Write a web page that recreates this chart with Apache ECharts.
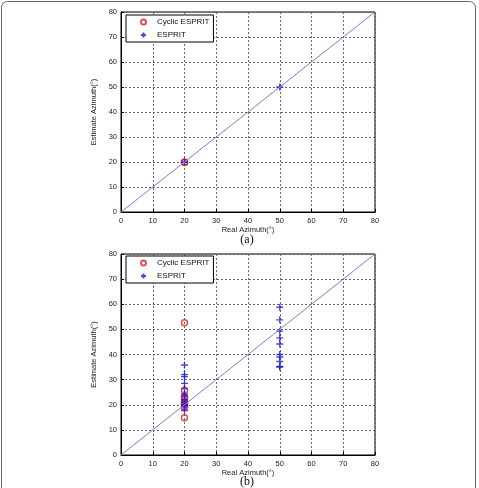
<!DOCTYPE html>
<html>
<head>
<meta charset="utf-8">
<script src="https://cdn.jsdelivr.net/npm/echarts@6/dist/echarts.min.js"></script>
<style>
  html, body { margin: 0; padding: 0; background: #fff; }
  #chart { width: 479px; height: 488px; }
</style>
</head>
<body>
<div id="chart"></div>
<script>
// reference line y = x
var refLine = [[0, 0], [80, 80]]

// (a) estimates
var cyclicA = [[20, 20], [20, 19.8]]
var espritA = [[20, 20], [50, 50]]

// (b) estimates
var cyclicB20 = [52.6, 25.8, 23.0, 22.2, 21.2, 20.5, 19.8, 19.0, 14.8]
var espritB20 = [35.8, 32.0, 31.2, 28.5, 26.4, 24.3, 23.5, 22.0, 21.0, 20.0, 19.5, 17.7]
var espritB50 = [58.8, 53.8, 49.3, 46.6, 44.2, 40.0, 39.0, 37.2, 35.2, 35.0]

var cyclicB = cyclicB20.map(function (v) { return [20, v] })
var espritB = espritB20.map(function (v) { return [20, v] }).concat(espritB50.map(function (v) { return [50, v] }))

var font = 'Liberation Sans, Arial, sans-serif'
var plusPath = 'path://M0,5L10,5M5,0L5,10'

function xAxis(idx) {
  return {
    gridIndex: idx,
    type: 'value',
    min: 0,
    max: 80,
    interval: 10,
    name: 'Real Azimuth(°)',
    nameLocation: 'middle',
    nameGap: 14,
    nameTextStyle: { fontFamily: font, fontSize: 7.5, color: '#222' },
    axisLine: { lineStyle: { color: '#000', width: 1 } },
    axisTick: { inside: true, length: 3, lineStyle: { color: '#000' } },
    axisLabel: { fontFamily: font, fontSize: 7.5, color: '#222', margin: 5 },
    splitLine: { show: true, lineStyle: { color: '#666', type: [2, 2], width: 1 } }
  }
}

function yAxis(idx) {
  return {
    gridIndex: idx,
    type: 'value',
    min: 0,
    max: 80,
    interval: 10,
    name: 'Estimate Azimuth(°)',
    nameLocation: 'middle',
    nameGap: 16,
    nameTextStyle: { fontFamily: font, fontSize: 7.5, color: '#222' },
    axisLine: { lineStyle: { color: '#000', width: 1 } },
    axisTick: { inside: true, length: 3, lineStyle: { color: '#000' } },
    axisLabel: { fontFamily: font, fontSize: 7.5, color: '#222', margin: 4 },
    splitLine: { show: true, lineStyle: { color: '#666', type: [2, 2], width: 1 } }
  }
}

function seriesFor(idx, cyc, esp) {
  return [
    {
      name: 'line',
      type: 'line',
      xAxisIndex: idx,
      yAxisIndex: idx,
      data: refLine,
      symbol: 'none',
      silent: true,
      lineStyle: { color: '#7b7bdc', width: 1 }
    },
    {
      name: 'Cyclic ESPRIT',
      type: 'scatter',
      xAxisIndex: idx,
      yAxisIndex: idx,
      data: cyc,
      symbol: 'circle',
      symbolSize: 6,
      itemStyle: { color: 'transparent', borderColor: '#e0201e', borderWidth: 1.5 }
    },
    {
      name: 'ESPRIT',
      type: 'scatter',
      xAxisIndex: idx,
      yAxisIndex: idx,
      data: esp,
      symbol: plusPath,
      symbolSize: 7,
      itemStyle: { color: 'transparent', borderColor: '#1a1adb', borderWidth: 1.4 }
    }
  ]
}

function legend(top) {
  return {
    data: [
      { name: 'Cyclic ESPRIT', icon: 'circle' },
      { name: 'ESPRIT', icon: plusPath }
    ],
    orient: 'vertical',
    left: 126,
    top: top,
    itemWidth: 5,
    itemHeight: 5,
    itemGap: 5,
    padding: [3, 4, 3, 14],
    backgroundColor: '#fff',
    borderColor: '#000',
    borderWidth: 1,
    borderRadius: 0,
    selectedMode: false,
    textStyle: { fontFamily: font, fontSize: 8, color: '#111', padding: [0, 0, 0, 6] }
  }
}

var chart = echarts.init(document.getElementById('chart'))
chart.setOption({
  animation: false,
  backgroundColor: '#fff',
  grid: [
    { left: 121, top: 12, width: 254, height: 200, show: true, borderColor: '#000', borderWidth: 1 },
    { left: 121, top: 254, width: 254, height: 201, show: true, borderColor: '#000', borderWidth: 1 }
  ],
  legend: [legend(15), legend(256)],
  xAxis: [xAxis(0), xAxis(1)],
  yAxis: [yAxis(0), yAxis(1)],
  series: seriesFor(0, cyclicA, espritA).concat(seriesFor(1, cyclicB, espritB)),
  graphic: [
    {
      type: 'rect',
      shape: { x: 1.5, y: 1.5, width: 474, height: 520, r: 6 },
      style: { fill: 'none', stroke: '#666', lineWidth: 1 },
      silent: true
    },
    {
      type: 'text',
      x: 247,
      y: 240,
      style: { text: '(a)', font: '12px "Liberation Serif", "Times New Roman", serif', fill: '#111', align: 'center', verticalAlign: 'middle' }
    },
    {
      type: 'text',
      x: 247,
      y: 482,
      style: { text: '(b)', font: '12px "Liberation Serif", "Times New Roman", serif', fill: '#111', align: 'center', verticalAlign: 'middle' }
    }
  ]
})
</script>
</body>
</html>
